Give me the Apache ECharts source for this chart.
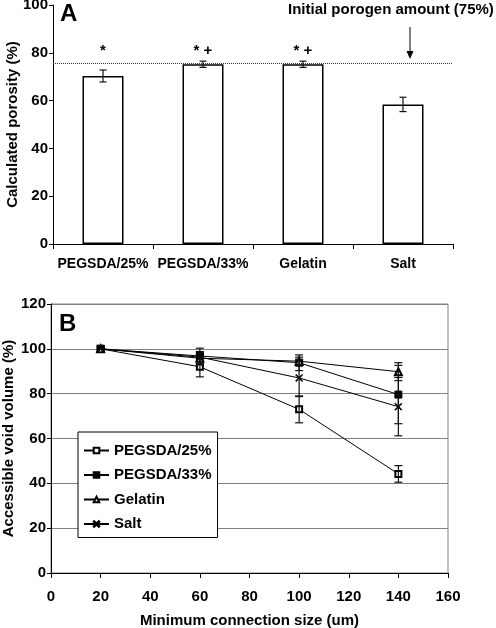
<!DOCTYPE html>
<html><head><meta charset="utf-8">
<script src="https://cdn.jsdelivr.net/npm/echarts@6/dist/echarts.min.js"></script>
<style>html,body{margin:0;padding:0;background:#fff}#c{width:496px;height:628px}</style>
</head><body><div id="c"></div>
<script>
// ---- Panel A data ----
const categoriesA = ['PEGSDA/25%', 'PEGSDA/33%', 'Gelatin', 'Salt'];
const porosity = [70.3, 75.2, 75.2, 58.4];
const porosityErr = [2.5, 1.3, 1.3, 3.0];
const significance = ['*', '* +', '* +', ''];
const initialPorogen = 75.5;
const porogenNote = 'Initial porogen amount (75%)';

// ---- Panel B data ----
const connSize = [20, 60, 100, 140];
const seriesNamesB = ['PEGSDA/25%', 'PEGSDA/33%', 'Gelatin', 'Salt'];
const pegsda25 = [100, 92.0, 73.0, 44.2];
const pegsda25Err = [0, 4.5, 6.0, 3.7];
const pegsda33 = [100, 96.8, 93.8, 79.6];
const pegsda33Err = [0, 3.5, 3.5, 13.0];
const gelatin = [100, 95.8, 94.5, 89.8];
const gelatinErr = [0, 3.0, 1.8, 4.0];
const salt = [100, 96.3, 87.0, 74.2];
const saltErr = [0, 2.0, 8.3, 13.0];

const FONT = '"Liberation Sans", Arial, sans-serif';
const txt = (size) => ({ fontFamily: FONT, fontWeight: 'bold', fontSize: size, color: '#000' });

function errRender(hw) {
  return function (params, api) {
    const x = api.value(0), lo = api.value(1), hi = api.value(2);
    const t = api.coord([x, hi]), b = api.coord([x, lo]);
    const st = { stroke: '#111', lineWidth: 1.2 };
    return { type: 'group', children: [
      { type: 'line', shape: { x1: t[0], y1: t[1], x2: b[0], y2: b[1] }, style: st },
      { type: 'line', shape: { x1: t[0] - hw, y1: t[1], x2: t[0] + hw, y2: t[1] }, style: st },
      { type: 'line', shape: { x1: b[0] - hw, y1: b[1], x2: b[0] + hw, y2: b[1] }, style: st }
    ]};
  };
}

const errA = porosity.map((v, i) => [i, v - porosityErr[i], v + porosityErr[i]]);
const sigData = significance.map((s, i) => [i, s]);

function errB(vals, errs) {
  const out = [];
  vals.forEach((v, i) => { if (errs[i] > 0) out.push([connSize[i], v - errs[i], v + errs[i]]); });
  return out;
}
const pts = (vals) => vals.map((v, i) => [connSize[i], v]);

const xSym = 'path://M0.8,0L5,4.2L9.2,0L10,0.8L5.8,5L10,9.2L9.2,10L5,5.8L0.8,10L0,9.2L4.2,5L0,0.8Z';
const symbols = ['emptyRect', 'rect', 'emptyTriangle', xSym];
const symSizes = [6, 7, 7, 7];
const valsB = [pegsda25, pegsda33, gelatin, salt];
const errsB = [pegsda25Err, pegsda33Err, gelatinErr, saltErr];

const chart = echarts.init(document.getElementById('c'), null, { renderer: 'canvas' });

const lineSeries = valsB.map((vals, k) => ({
  name: seriesNamesB[k], type: 'line', xAxisIndex: 1, yAxisIndex: 1,
  data: pts(vals), symbol: symbols[k], symbolSize: symSizes[k],
  lineStyle: { color: '#000', width: 1 },
  itemStyle: { color: '#000', borderColor: '#000', borderWidth: 1 },
  z: 3
}));
const errSeries = valsB.map((vals, k) => ({
  type: 'custom', xAxisIndex: 1, yAxisIndex: 1, renderItem: errRender(4),
  data: errB(vals, errsB[k]), z: 4, silent: true
}));

chart.setOption({
  backgroundColor: '#fff',
  animation: false,
  textStyle: { fontFamily: FONT },
  grid: [
    { left: 53, top: 5, width: 400, height: 239, containLabel: false, outerBoundsMode: 'none' },
    { left: 51, top: 304, width: 397, height: 269, containLabel: false, outerBoundsMode: 'none',
      show: true, borderColor: '#808080', borderWidth: 1, backgroundColor: 'transparent' }
  ],
  xAxis: [
    { gridIndex: 0, type: 'category', data: categoriesA, boundaryGap: true,
      axisLine: { lineStyle: { color: '#000', width: 1 } },
      axisTick: { show: true, alignWithLabel: false, length: 5, lineStyle: { color: '#000' } },
      axisLabel: Object.assign({ margin: 13, interval: 0 }, txt(14)) },
    { gridIndex: 1, type: 'value', min: 0, max: 160, interval: 20,
      name: 'Minimum connection size (um)', nameLocation: 'middle', nameGap: 40, nameMoveOverlap: false,
      nameTextStyle: txt(15),
      axisLine: { onZero: false, lineStyle: { color: '#000', width: 1 } },
      axisTick: { show: true, length: 5, lineStyle: { color: '#000' } },
      splitLine: { show: false },
      axisLabel: Object.assign({ margin: 16 }, txt(15)) }
  ],
  yAxis: [
    { gridIndex: 0, type: 'value', min: 0, max: 100, interval: 20,
      name: 'Calculated porosity (%)', nameLocation: 'middle', nameGap: 33, nameRotate: 90, nameMoveOverlap: false,
      nameTextStyle: txt(15),
      axisLine: { show: true, lineStyle: { color: '#000', width: 1 } },
      axisTick: { show: true, length: 4, lineStyle: { color: '#000' } },
      splitLine: { show: false },
      axisLabel: Object.assign({ margin: 5 }, txt(15)) },
    { gridIndex: 1, type: 'value', min: 0, max: 120, interval: 20,
      name: 'Accessible void volume (%)', nameLocation: 'middle', nameGap: 35, nameRotate: 90, nameMoveOverlap: false,
      nameTextStyle: txt(15),
      axisLine: { show: true, onZero: false, lineStyle: { color: '#000', width: 1 } },
      axisTick: { show: true, length: 4, lineStyle: { color: '#000' } },
      splitLine: { show: true, lineStyle: { color: '#808080', width: 1 } },
      axisLabel: Object.assign({ margin: 5 }, txt(15)) }
  ],
  legend: {
    data: seriesNamesB, orient: 'vertical', left: 78, top: 432,
    backgroundColor: '#fff', borderColor: '#000', borderWidth: 1,
    padding: [11, 6, 6, 5], itemWidth: 25, itemHeight: 7, itemGap: 9.5, itemTextGap: 3,
    textStyle: txt(15), z: 10
  },
  graphic: [
    { type: 'text', left: 60, top: 2, style: { text: 'A', font: 'bold 24px ' + FONT, fill: '#000' } },
    { type: 'text', left: 59, top: 312, style: { text: 'B', font: 'bold 24px ' + FONT, fill: '#000' } },
    { type: 'text', left: 288, top: 2, style: { text: porogenNote, font: 'bold 15px ' + FONT, fill: '#000' } },
    { type: 'line', shape: { x1: 410, y1: 27, x2: 410, y2: 52 }, style: { stroke: '#000', lineWidth: 1 } },
    { type: 'polygon', shape: { points: [[406.5, 51], [413.5, 51], [410, 59]] }, style: { fill: '#000' } }
  ],
  series: [
    { type: 'bar', xAxisIndex: 0, yAxisIndex: 0, data: porosity, barWidth: 41,
      itemStyle: { color: '#fff', borderColor: '#000', borderWidth: 1.5 },
      markLine: { silent: true, symbol: 'none', label: { show: false },
        lineStyle: { color: '#333', type: 'dotted', width: 1 },
        data: [{ yAxis: initialPorogen }] } },
    { type: 'custom', xAxisIndex: 0, yAxisIndex: 0, renderItem: errRender(3.5), data: errA, z: 5 },
    { type: 'custom', xAxisIndex: 0, yAxisIndex: 0, data: sigData, z: 5,
      renderItem: function (params, api) {
        const p = api.coord([api.value(0), 81]);
        return { type: 'text', x: p[0], y: p[1],
          style: { text: significance[params.dataIndex], font: 'bold 15px ' + FONT, fill: '#000', align: 'center', verticalAlign: 'middle' } };
      } },
    ...lineSeries,
    ...errSeries
  ]
});
</script></body></html>
